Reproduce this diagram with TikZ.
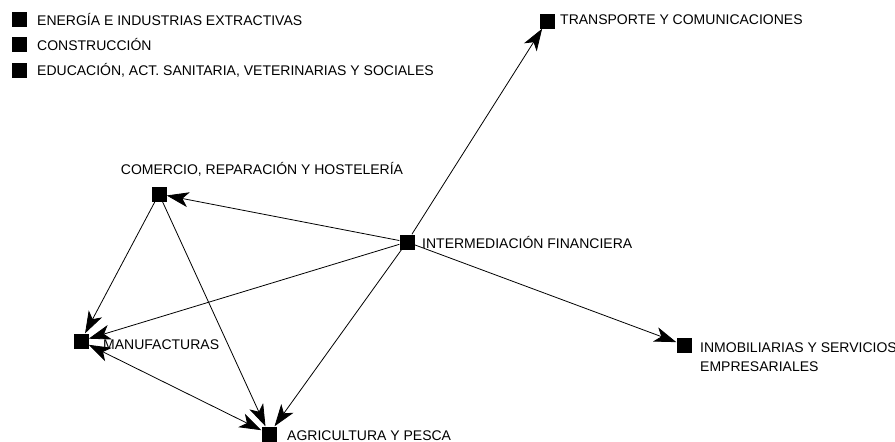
\documentclass[tikz,border=0pt]{standalone}
\usepackage{fontspec}
\setmainfont{Liberation Sans}
\usetikzlibrary{arrows.meta}
\begin{document}
\begin{tikzpicture}[x=1pt,y=-1pt,
  sq/.style={fill=black,draw=none,minimum size=15pt,inner sep=0pt},
  lab/.style={font=\fontsize{14}{16}\selectfont,inner sep=0pt,anchor=west},
  edge/.style={line width=0.8pt,-{Stealth[length=22pt,width=15pt,inset=6pt]}},
  bedge/.style={line width=0.8pt,{Stealth[length=22pt,width=15pt,inset=6pt]}-{Stealth[length=22pt,width=15pt,inset=6pt]}}]
\useasboundingbox (0,0) rectangle (895,442);
% legend
\node[sq] (l1) at (19.5,19) {};
\node[lab] (l1t) at (37,19) {ENERGÍA E INDUSTRIAS EXTRACTIVAS};
\node[sq] (l2) at (19.5,44) {};
\node[lab] (l2t) at (37,44) {CONSTRUCCIÓN};
\node[sq] (l3) at (19.5,70) {};
\node[lab] (l3t) at (37,70) {EDUCACIÓN, ACT. SANITARIA, VETERINARIAS Y SOCIALES};
% network nodes
\node[sq] (tra) at (547,21) {};
\node[lab] (trat) at (560,20) {TRANSPORTE Y COMUNICACIONES};
\node[sq] (com) at (159,194) {};
\node[lab,anchor=center] (comt) at (262,169) {COMERCIO, REPARACIÓN Y HOSTELERÍA};
\node[sq] (int) at (407,242) {};
\node[lab] (intt) at (422,242) {INTERMEDIACIÓN FINANCIERA};
\node[sq] (man) at (81,341) {};
\node[lab] (mant) at (103,345) {MANUFACTURAS};
\node[sq] (agr) at (269,434) {};
\node[lab] (agrt) at (287,436) {AGRICULTURA Y PESCA};
\node[sq] (inm) at (684,345) {};
\node[lab,align=left] (inmt) at (700,357) {INMOBILIARIAS Y SERVICIOS\\[3pt]EMPRESARIALES};
% edges
\draw[edge] (int) -- (tra);
\draw[edge] (int) -- (com);
\draw[edge] (int) -- (man);
\draw[edge] (int) -- (agr);
\draw[edge] (int) -- (inm);
\draw[edge] (com) -- (man);
\draw[edge] (com) -- (agr);
\draw[bedge] (man) -- (agr);
\end{tikzpicture}
\end{document}
